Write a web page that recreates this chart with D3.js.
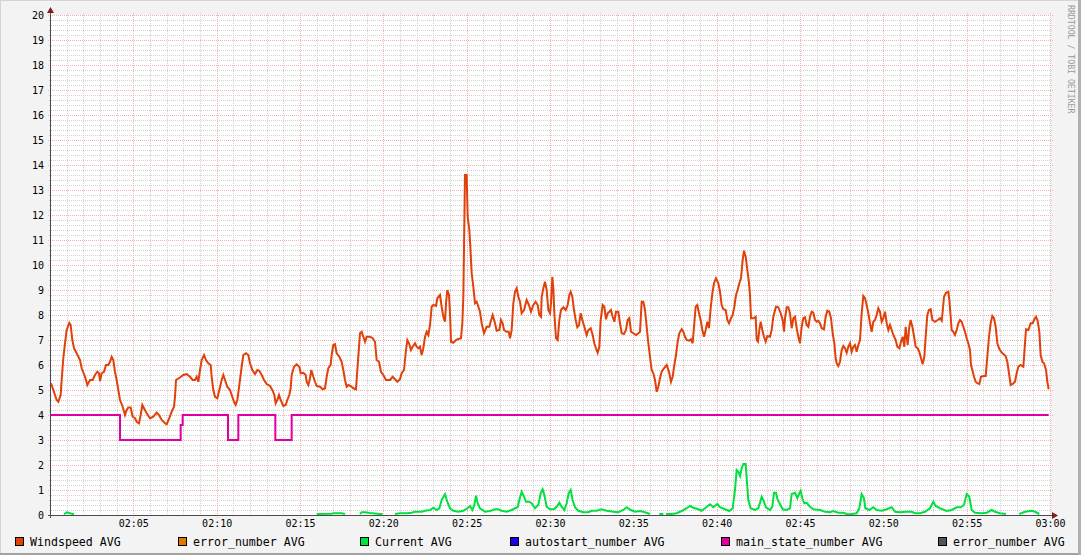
<!DOCTYPE html>
<html><head><meta charset="utf-8">
<script src="https://cdn.jsdelivr.net/npm/d3@7"></script>
<style>html,body{margin:0;padding:0;background:#F3F3F3;}svg{display:block;}</style>
</head><body>
<svg id="chart" width="1081" height="555"></svg>
<script>
// ---------- data ----------
const startHour = 2;               // 02:00
const durationMinutes = 60;        // to 03:00
const yTickValues = [0,1,2,3,4,5,6,7,8,9,10,11,12,13,14,15,16,17,18,19,20];
const xTickLabels = ["02:05","02:10","02:15","02:20","02:25","02:30","02:35","02:40","02:45","02:50","02:55","03:00"];
const legendLabels = ["Windspeed AVG","error_number AVG","Current AVG","autostart_number AVG","main_state_number AVG","error_number AVG"];
const legendColors = ["#E0400A","#E07800","#00E040","#2000E0","#E000A0","#555555"];
const watermark = "RRDTOOL / TOBI OETIKER";

// [minutes after 02:00, value]
const windspeed = [
[0.06,5.27],[0.2,5.0],[0.4,4.6],[0.5,4.53],[0.64,4.8],[0.7,5.4],[0.8,6.28],[0.9,6.87],[1.0,7.4],[1.16,7.68],[1.24,7.6],[1.34,7.0],[1.44,6.67],[1.6,6.47],[1.8,6.2],[1.9,5.87],[2.1,5.53],[2.24,5.2],[2.4,5.4],[2.56,5.4],[2.7,5.6],[2.84,5.73],[2.94,5.67],[3.0,5.36],[3.1,5.67],[3.24,5.73],[3.36,6.0],[3.5,6.0],[3.6,6.13],[3.7,6.33],[3.8,6.2],[3.9,5.73],[4.0,5.4],[4.1,5.0],[4.2,4.6],[4.36,4.33],[4.5,4.0],[4.6,4.2],[4.7,4.3],[4.84,4.3],[4.96,3.93],[5.1,3.87],[5.2,3.73],[5.34,3.67],[5.44,4.0],[5.54,4.4],[5.64,4.27],[5.8,4.07],[6.0,3.87],[6.2,3.93],[6.4,4.1],[6.54,4.0],[6.7,3.8],[6.9,3.67],[7.0,3.63],[7.16,3.87],[7.3,4.13],[7.44,4.33],[7.5,4.73],[7.56,5.4],[7.8,5.5],[8.0,5.6],[8.2,5.64],[8.4,5.53],[8.56,5.4],[8.7,5.4],[8.8,5.53],[8.9,5.33],[9.0,5.8],[9.1,6.2],[9.24,6.4],[9.36,6.2],[9.5,6.07],[9.64,6.0],[9.7,5.53],[9.8,5.0],[9.9,4.73],[10.04,4.67],[10.16,5.0],[10.3,5.4],[10.4,5.6],[10.5,5.4],[10.64,5.13],[10.8,5.0],[10.9,4.8],[11.04,4.53],[11.14,4.4],[11.24,4.6],[11.36,5.2],[11.5,5.93],[11.6,6.4],[11.76,6.47],[11.9,6.4],[12.0,6.07],[12.14,5.8],[12.3,5.64],[12.44,5.8],[12.56,5.77],[12.7,5.6],[12.84,5.4],[13.0,5.24],[13.2,5.16],[13.34,5.0],[13.46,4.8],[13.54,4.47],[13.64,4.6],[13.74,4.8],[13.84,4.6],[14.0,4.36],[14.14,4.4],[14.24,4.6],[14.36,4.8],[14.44,5.07],[14.5,5.6],[14.64,5.93],[14.8,6.03],[14.96,5.93],
[15.04,5.67],[15.2,5.69],[15.34,5.6],[15.4,5.33],[15.5,5.2],[15.6,5.47],[15.68,5.8],[15.8,5.53],[15.9,5.33],[16.0,5.16],[16.2,5.13],[16.36,5.03],[16.5,5.07],[16.6,5.53],[16.7,5.87],[16.84,6.0],[16.9,6.4],[17.0,6.8],[17.1,6.83],[17.2,6.47],[17.36,6.33],[17.5,6.13],[17.6,5.8],[17.7,5.4],[17.8,5.13],[17.9,5.2],[18.04,5.16],[18.2,5.07],[18.36,5.03],[18.44,5.8],[18.52,6.53],[18.6,7.27],[18.7,7.33],[18.8,7.13],[18.9,6.93],[19.0,7.13],[19.2,7.13],[19.36,7.07],[19.5,6.93],[19.6,6.2],[19.74,6.13],[19.86,5.73],[20.0,5.6],[20.16,5.4],[20.4,5.4],[20.56,5.53],[20.7,5.43],[20.84,5.33],[21.0,5.43],[21.1,5.67],[21.24,5.8],[21.36,6.6],[21.44,7.0],[21.54,6.87],[21.66,6.6],[21.76,6.73],[21.9,6.87],[22.0,6.73],[22.1,6.67],[22.2,6.73],[22.3,6.4],[22.4,6.67],[22.5,7.13],[22.6,7.33],[22.7,7.2],[22.8,7.6],[22.9,8.33],[23.0,8.4],[23.16,8.36],[23.24,8.67],[23.4,8.8],[23.5,8.33],[23.6,7.93],[23.7,7.73],[23.76,8.47],[23.84,9.0],[23.94,8.8],[24.0,8.07],[24.06,6.93],[24.2,6.89],[24.36,7.0],[24.5,7.04],[24.66,7.07],[24.74,7.67],[24.8,8.73],[24.9,13.6],[25.0,13.6],[25.06,11.93],[25.16,11.4],[25.22,10.73],[25.3,9.67],[25.4,9.13],[25.5,8.47],[25.6,8.53],[25.7,8.33],[25.8,8.13],[25.9,7.67],[26.04,7.27],[26.2,7.53],[26.36,7.53],[26.44,7.73],[26.56,8.0],[26.7,7.67],[26.8,7.37],[26.96,7.4],[27.06,7.8],[27.16,7.67],[27.24,7.4],[27.4,7.33],[27.52,7.33],[27.6,7.07],[27.7,7.4],[27.8,8.47],[27.9,8.93],[28.0,9.07],[28.1,8.73],
[28.2,8.53],[28.3,8.07],[28.44,8.2],[28.6,8.6],[28.74,8.4],[28.86,8.13],[29.0,8.4],[29.14,8.53],[29.26,8.4],[29.36,8.0],[29.46,7.93],[29.5,8.73],[29.6,9.07],[29.7,9.33],[29.8,9.0],[29.9,8.2],[30.0,8.07],[30.06,8.47],[30.14,9.53],[30.2,9.07],[30.26,8.07],[30.36,7.07],[30.46,7.0],[30.56,7.8],[30.66,8.2],[30.8,8.31],[30.94,8.2],[31.06,8.4],[31.16,8.8],[31.24,8.93],[31.34,8.73],[31.44,8.2],[31.54,7.8],[31.64,7.51],[31.74,7.6],[31.84,8.07],[31.94,7.8],[32.06,7.53],[32.2,7.2],[32.3,7.4],[32.44,7.47],[32.56,7.2],[32.66,6.87],[32.76,6.67],[32.86,6.49],[32.96,6.73],[33.04,7.8],[33.16,8.4],[33.26,8.33],[33.36,7.83],[33.46,8.07],[33.56,8.13],[33.66,8.2],[33.76,7.93],[33.86,7.73],[33.96,8.13],[34.1,8.13],[34.2,7.67],[34.3,7.27],[34.44,7.24],[34.56,7.4],[34.66,7.8],[34.76,7.87],[34.86,7.33],[35.0,7.27],[35.16,7.2],[35.3,7.27],[35.4,7.33],[35.5,8.53],[35.6,8.53],[35.7,8.2],[35.8,7.53],[35.9,6.87],[36.0,6.33],[36.1,5.8],[36.2,5.67],[36.3,5.4],[36.4,4.93],[36.5,5.13],[36.6,5.47],[36.7,5.73],[36.84,5.87],[37.0,6.0],[37.14,5.73],[37.26,5.33],[37.36,5.53],[37.46,6.0],[37.56,6.4],[37.66,6.93],[37.76,7.27],[37.9,7.43],[38.0,7.33],[38.1,7.13],[38.2,7.0],[38.36,6.97],[38.46,7.03],[38.56,6.87],[38.64,7.53],[38.74,8.33],[38.84,8.4],[38.94,8.07],[39.04,7.8],[39.14,7.4],[39.24,7.13],[39.34,7.4],[39.44,7.73],[39.54,7.47],[39.64,8.27],[39.74,8.87],[39.84,9.27],[39.96,9.47],[40.1,9.27],[40.2,8.93],[40.3,8.4],[40.4,8.23],[40.54,8.2],[40.64,7.8],[40.74,7.67],[40.86,7.87],[40.96,8.0],[41.06,8.33],[41.16,8.8],[41.26,9.0],[41.36,9.27],[41.46,9.47],[41.56,10.2],[41.64,10.57],[41.74,10.33],[41.84,9.8],[41.92,9.4],[42.0,8.8],[42.06,7.87],[42.2,7.87],[42.34,7.93],[42.4,7.0],[42.48,6.93],[42.56,7.4],[42.64,7.73],[42.74,7.4],[42.84,7.13],[42.94,6.93],[43.04,7.16],
[43.2,7.13],[43.3,7.4],[43.4,7.93],[43.56,8.33],[43.7,8.31],[43.84,8.07],[43.96,7.8],[44.04,7.33],[44.1,7.87],[44.2,8.31],[44.3,8.31],[44.4,8.07],[44.5,7.47],[44.6,7.87],[44.7,7.93],[44.8,7.47],[44.9,7.13],[45.0,6.87],[45.1,7.53],[45.2,7.87],[45.3,7.91],[45.4,7.6],[45.5,7.53],[45.6,7.93],[45.7,8.13],[45.8,8.09],[45.9,7.8],[46.0,7.73],[46.1,7.77],[46.2,7.67],[46.3,7.47],[46.44,7.43],[46.54,7.93],[46.64,8.17],[46.76,8.13],[46.86,7.87],[46.96,7.27],[47.06,6.87],[47.14,6.27],[47.2,6.07],[47.3,5.96],[47.4,6.13],[47.5,6.6],[47.6,6.76],[47.7,6.67],[47.8,6.49],[47.9,6.73],[48.0,6.87],[48.1,6.53],[48.2,6.73],[48.3,6.8],[48.4,6.53],[48.5,6.8],[48.6,7.0],[48.7,8.07],[48.8,8.76],[48.9,8.67],[49.0,8.4],[49.1,8.07],[49.2,7.67],[49.3,7.33],[49.4,7.73],[49.5,7.8],[49.6,8.0],[49.7,8.27],[49.8,8.13],[49.9,7.73],[50.0,7.87],[50.1,8.13],[50.2,7.67],[50.3,7.4],[50.4,7.6],[50.5,7.4],[50.6,7.2],[50.74,7.0],[50.84,6.73],[50.96,6.67],[51.06,6.93],[51.16,7.13],[51.26,6.73],[51.34,7.53],[51.4,7.13],[51.46,6.8],[51.56,7.53],[51.64,7.8],[51.76,7.47],[51.86,7.07],[51.94,6.73],[52.06,6.67],[52.16,6.53],[52.26,6.27],[52.36,6.03],[52.46,6.33],[52.54,7.13],[52.64,8.0],[52.74,8.2],[52.84,8.23],[52.94,7.8],[53.1,7.73],[53.26,7.8],[53.4,7.87],[53.5,7.77],[53.56,8.13],[53.64,8.73],[53.76,8.89],[53.9,8.93],[53.96,8.6],[54.04,7.93],[54.1,7.4],[54.2,7.33],[54.3,7.2],[54.4,7.4],[54.5,7.67],[54.6,7.8],[54.7,7.73],[54.8,7.53],[54.9,7.33],[55.0,7.07],[55.1,6.87],[55.2,6.6],[55.26,6.0],[55.34,5.8],[55.44,5.53],[55.54,5.33],[55.64,5.27],[55.76,5.24],[55.86,5.53],[56.0,5.56],[56.14,5.56],[56.24,6.33],[56.34,7.13],[56.44,7.67],[56.54,7.96],[56.64,7.87],[56.74,7.53],[56.84,6.87],[56.94,6.67],[57.06,6.53],[57.2,6.44],[57.34,6.36],[57.44,6.13],[57.54,5.67],[57.64,5.2],[57.76,5.24],[57.9,5.33],[58.0,5.67],[58.1,5.93],[58.24,6.0],[58.4,5.93],[58.5,6.87],[58.56,7.43],[58.7,7.4],[58.84,7.67],[58.96,7.67],[59.06,7.83],[59.16,7.93],[59.26,7.77],[59.36,7.33],[59.44,6.4],[59.54,6.13],[59.64,6.07],[59.76,5.8],[59.84,5.33],[59.92,5.03]
];

// null = no data (gap)
const current = [
[0.84,0.03],[1.0,0.11],[1.2,0.07],[1.44,0.03],[1.5,null],
[16.0,0.04],[16.9,0.05],[17.0,0.07],[17.5,0.07],[17.7,0.04],[17.8,null],
[18.6,0.04],[18.7,0.11],[18.9,0.11],[19.2,0.08],[19.8,0.04],[19.96,0.03],[20.1,null],
[20.7,0.04],[21.0,0.07],[21.4,0.07],[21.7,0.09],[21.9,0.13],[22.3,0.13],[22.5,0.17],[22.8,0.2],[23.0,0.29],[23.2,0.2],[23.36,0.27],[23.5,0.6],[23.7,0.83],[23.84,0.53],[24.0,0.27],[24.2,0.17],[24.5,0.13],[24.8,0.17],[25.04,0.27],[25.2,0.36],[25.34,0.2],[25.46,0.4],[25.56,0.77],[25.66,0.47],[25.8,0.27],[26.1,0.13],[26.4,0.16],[26.7,0.23],[26.9,0.23],[27.1,0.17],[27.4,0.13],[27.7,0.2],[27.9,0.27],[28.06,0.31],[28.16,0.6],[28.3,0.93],[28.44,0.73],[28.56,0.53],[28.74,0.53],[28.9,0.47],[29.1,0.27],[29.3,0.4],[29.44,0.87],[29.56,1.03],[29.66,0.8],[29.8,0.33],[30.0,0.23],[30.24,0.23],[30.4,0.33],[30.56,0.49],[30.7,0.33],[30.86,0.2],[31.0,0.47],[31.12,0.87],[31.24,1.0],[31.36,0.6],[31.5,0.31],[31.7,0.17],[32.0,0.11],[32.3,0.11],[32.5,0.17],[32.8,0.17],[33.1,0.23],[33.4,0.17],[33.8,0.13],[34.1,0.11],[34.4,0.2],[34.6,0.31],[34.84,0.2],[35.1,0.13],[35.4,0.16],[35.7,0.11],[36.0,0.04],[36.1,null],
[36.56,0.04],[36.8,0.04],[36.85,null],[36.96,0.04],[37.3,0.04],[37.6,0.07],[37.9,0.16],[38.2,0.27],[38.4,0.36],[38.6,0.29],[38.9,0.23],[39.1,0.17],[39.3,0.27],
[39.6,0.43],[39.8,0.31],[40.04,0.44],[40.2,0.31],[40.5,0.23],[40.76,0.16],[40.96,0.27],[41.1,1.0],[41.2,1.8],[41.3,1.73],[41.4,1.56],[41.5,1.87],[41.6,2.04],[41.74,2.04],[41.8,1.47],[41.9,0.6],[42.04,0.27],[42.3,0.2],[42.5,0.27],[42.6,0.49],[42.7,0.73],[42.8,0.6],[42.96,0.31],[43.2,0.2],[43.34,0.33],[43.44,0.89],[43.56,0.89],[43.66,0.6],[43.8,0.44],[43.96,0.23],[44.2,0.2],[44.4,0.27],[44.5,0.84],[44.7,0.89],[44.84,0.67],[44.96,0.87],[45.04,0.97],[45.14,0.67],[45.26,0.47],[45.4,0.49],[45.6,0.33],[45.8,0.23],[46.2,0.2],[46.5,0.13],[46.8,0.11],[47.0,0.16],[47.3,0.09],[47.6,0.09],[47.8,0.04],[48.0,0.03],[48.4,0.07],[48.56,0.27],[48.7,0.84],[48.84,0.67],[48.92,0.27],[49.16,0.2],[49.4,0.31],[49.6,0.2],[49.9,0.17],[50.2,0.23],[50.5,0.31],[50.7,0.13],[51.0,0.11],[51.4,0.13],[51.7,0.13],[51.9,0.07],[52.2,0.07],[52.5,0.13],[52.8,0.27],[53.0,0.53],[53.14,0.36],[53.4,0.27],[53.8,0.16],[54.1,0.2],[54.4,0.31],[54.64,0.31],[54.84,0.4],[55.0,0.84],[55.16,0.73],[55.3,0.2],[55.5,0.09],[55.9,0.07],[56.2,0.09],[56.5,0.2],[56.7,0.13],[57.0,0.07],[57.36,0.04],[57.5,null],
[58.16,0.04],[58.5,0.13],[58.9,0.17],[59.1,0.13],[59.36,0.04]
];

const mainStateMinutes = [0, 4.2, 7.84, 7.96, 10.68, 11.3, 13.52, 14.5, 59.92];
const mainStateValues  = [4,   3,   3.6,  4,    3,     4,    3,     4,    4];

// ---------- drawing ----------
(function draw(){
const svg = d3.select("#chart");
const W = 1081, H = 555;
const pL = 50, pR = 1050, pT = 15, pB = 515;
const t0 = new Date(Date.UTC(2020,0,1,startHour,0,0));
const toDate = m => new Date(t0.getTime() + m * 60000);
const x = d3.scaleUtc().domain([t0, toDate(durationMinutes)]).range([pL, pR]);
const y = d3.scaleLinear().domain([0, 20]).range([pB, pT]);
const mono = "'DejaVu Sans Mono', 'Liberation Mono', monospace";
const minorColor = "#D2D2D2", majorColor = "#F2B2B2";

// background + shading
svg.append("rect").attr("x",0).attr("y",0).attr("width",W).attr("height",H).attr("fill","#F3F3F3");
svg.append("rect").attr("x",0).attr("y",0).attr("width",W).attr("height",1).attr("fill","#D4D4D4");
svg.append("rect").attr("x",0).attr("y",0).attr("width",1).attr("height",H).attr("fill","#D4D4D4");
svg.append("rect").attr("x",0).attr("y",H-2).attr("width",W).attr("height",2).attr("fill","#A2A2A2");
svg.append("rect").attr("x",W-3).attr("y",0).attr("width",3).attr("height",H).attr("fill","#B0B0B0");

// canvas
svg.append("rect").attr("x",pL).attr("y",pT).attr("width",pR-pL+1).attr("height",pB-pT)
  .attr("fill","#FFFFFF");

const grid = svg.append("g").attr("shape-rendering","crispEdges");
const minorY = d3.range(0, 20.01, 0.2).filter(v => Math.abs(v - Math.round(v)) > 1e-6);
grid.selectAll(".hmin").data(minorY).join("line")
  .attr("x1",pL-1).attr("x2",pR+2)
  .attr("y1",d=>Math.round(y(d))+0.5).attr("y2",d=>Math.round(y(d))+0.5)
  .attr("stroke",minorColor).attr("stroke-dasharray","1,1");
const minorX = d3.utcMinute.every(1).range(t0, toDate(durationMinutes+0.01)).filter(d => d.getUTCMinutes() % 5 !== 0);
grid.selectAll(".vmin").data(minorX).join("line")
  .attr("x1",d=>Math.round(x(d))+0.5).attr("x2",d=>Math.round(x(d))+0.5)
  .attr("y1",pT-2).attr("y2",pB+2)
  .attr("stroke",minorColor).attr("stroke-dasharray","1,1");
grid.selectAll(".hmaj").data(yTickValues.filter(v=>v>0)).join("line")
  .attr("x1",pL-2).attr("x2",pR+3)
  .attr("y1",d=>Math.round(y(d))+0.5).attr("y2",d=>Math.round(y(d))+0.5)
  .attr("stroke",majorColor).attr("stroke-dasharray","1,1");
const majorX = d3.utcMinute.every(5).range(toDate(5), toDate(durationMinutes+0.01));
grid.selectAll(".vmaj").data(majorX).join("line")
  .attr("x1",d=>Math.round(x(d))+0.5).attr("x2",d=>Math.round(x(d))+0.5)
  .attr("y1",pT-2).attr("y2",pB+3)
  .attr("stroke",majorColor).attr("stroke-dasharray","1,1");

// series
const line = d3.line()
  .defined(d => d[1] !== null)
  .x(d => x(toDate(d[0])))
  .y(d => y(d[1]));

svg.append("path").datum(windspeed).attr("d", line)
  .attr("fill","none").attr("stroke",legendColors[0]).attr("stroke-width",2);

svg.append("path").datum(current).attr("d", line)
  .attr("fill","none").attr("stroke",legendColors[2]).attr("stroke-width",2);

const mainState = mainStateMinutes.map((m,i)=>[m, mainStateValues[i]]);
svg.append("path").datum(mainState).attr("d", d3.line().curve(d3.curveStepAfter)
    .x(d => x(toDate(d[0]))).y(d => y(d[1])))
  .attr("fill","none").attr("stroke",legendColors[4]).attr("stroke-width",2);

// axes lines
const axisColor = "#4A4A4A", arrowColor = "#7F1F1F";
svg.append("line").attr("x1",pL+0.5).attr("x2",pL+0.5).attr("y1",pB+3).attr("y2",pT-6)
  .attr("stroke",axisColor).attr("shape-rendering","crispEdges");
svg.append("line").attr("x1",pL-2).attr("x2",pR+5).attr("y1",pB+0.5).attr("y2",pB+0.5)
  .attr("stroke",axisColor).attr("shape-rendering","crispEdges");
svg.append("path").attr("d",`M${pL-3},${pT-2}L${pL+0.5},${pT-8}L${pL+4},${pT-2}Z`).attr("fill",arrowColor);
svg.append("path").attr("d",`M${pR+2},${pB-3}L${pR+8},${pB+0.5}L${pR+2},${pB+4}Z`).attr("fill",arrowColor);

// y labels
const yAxis = d3.axisLeft(y).tickValues(yTickValues).tickSize(0).tickPadding(6).tickFormat(d3.format("d"));
const gy = svg.append("g").attr("transform",`translate(${pL},0)`).call(yAxis);
gy.select(".domain").remove();
gy.selectAll("text").attr("font-family",mono).attr("font-size","10px").attr("fill","#000").attr("dy","0.36em");

// x labels
const xAxis = d3.axisBottom(x).tickValues(majorX).tickSize(0).tickPadding(5)
  .tickFormat((d,i) => xTickLabels[i]);
const gx = svg.append("g").attr("transform",`translate(0,${pB})`).call(xAxis);
gx.select(".domain").remove();
gx.selectAll("text").attr("font-family",mono).attr("font-size","10px").attr("fill","#000");

// legend
const legendX = [15, 178, 360, 510, 721, 938];
const lg = svg.append("g");
legendLabels.forEach((lab,i)=>{
  lg.append("rect").attr("x",legendX[i]+0.5).attr("y",537.5).attr("width",8).attr("height",8)
    .attr("fill",legendColors[i]).attr("stroke","#000").attr("stroke-width",1);
  lg.append("text").attr("x",legendX[i]+15).attr("y",546).text(lab)
    .attr("font-family",mono).attr("font-size","11.6px").attr("fill","#000");
});

// watermark
svg.append("text").attr("transform","translate(1068,5) rotate(90)")
  .attr("font-family",mono).attr("font-size","8.2px").attr("fill","#9A9A9A").text(watermark);
})();
</script>
</body></html>
